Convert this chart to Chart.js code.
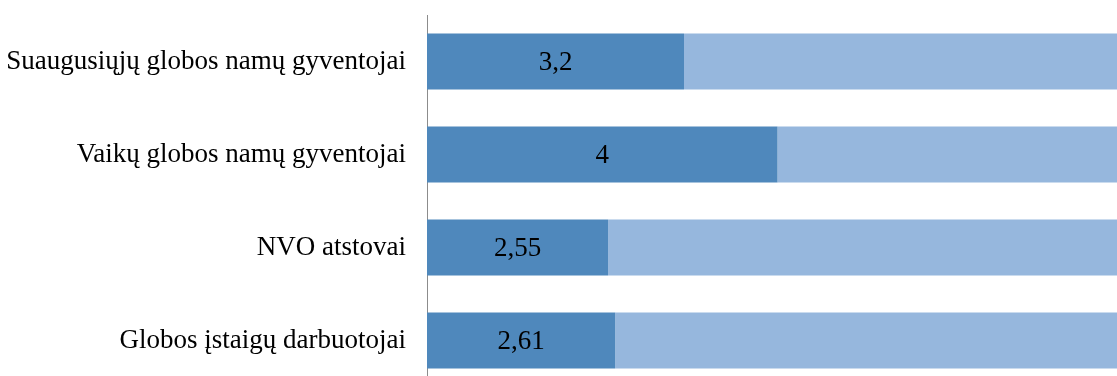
<!DOCTYPE html>
<html>
<head>
<meta charset="utf-8">
<script src="https://cdn.jsdelivr.net/npm/chart.js@4/dist/chart.umd.min.js"></script>
<style>
    html, body { margin: 0; padding: 0; background: #fff; overflow: hidden; }
    .wrap { width: 1117px; height: 376px; overflow: hidden; }
</style>
</head>
<body>
<div class="wrap"><canvas id="barChart" width="1130" height="390"></canvas></div>
<script>
// data
const categories = [
    'Suaugusiųjų globos namų gyventojai',
    'Vaikų globos namų gyventojai',
    'NVO atstovai',
    'Globos įstaigų darbuotojai'
];
const scores = [3.2, 4, 2.55, 2.61];
const scaleMin = 1;
const scaleMax = 7;
const remainder = scores.map(v => scaleMax - v);

const serif = '"Liberation Serif", "Times New Roman", serif';

// value text in the middle of the dark bars
const valueLabels = {
    id: 'valueLabels',
    afterDatasetsDraw(chart) {
        const ctx = chart.ctx;
        const meta = chart.getDatasetMeta(0);
        const left = chart.chartArea.left;
        ctx.save();
        ctx.font = '27px ' + serif;
        ctx.fillStyle = '#000';
        ctx.textAlign = 'center';
        ctx.textBaseline = 'middle';
        meta.data.forEach((bar, i) => {
            const x = (bar.x + Math.max(bar.base, left)) / 2;
            ctx.fillText(String(scores[i]).replace('.', ','), x, bar.y + 1);
        });
        ctx.restore();
    }
};

new Chart(document.getElementById('barChart'), {
    type: 'bar',
    data: {
        labels: categories,
        datasets: [
            {
                data: scores,
                backgroundColor: '#4f88bc',
                categoryPercentage: 1,
                barPercentage: 0.6
            },
            {
                data: remainder,
                backgroundColor: '#96b7dd',
                categoryPercentage: 1,
                barPercentage: 0.6
            }
        ]
    },
    options: {
        indexAxis: 'y',
        responsive: false,
        animation: false,
        layout: { padding: { top: 15, bottom: 3, right: 2, left: 0 } },
        plugins: {
            legend: { display: false },
            tooltip: { enabled: false }
        },
        scales: {
            x: {
                stacked: true,
                display: false,
                min: scaleMin,
                max: scaleMax
            },
            y: {
                stacked: true,
                grid: { display: false, drawTicks: false },
                border: { color: '#8c8c8c', width: 1 },
                ticks: {
                    color: '#000',
                    padding: 21,
                    font: { family: serif, size: 27 }
                },
                afterFit(axis) {
                    axis.width = 427;
                    axis.paddingTop = 0;
                    axis.paddingBottom = 0;
                }
            }
        }
    },
    plugins: [valueLabels]
});
</script>
</body>
</html>
